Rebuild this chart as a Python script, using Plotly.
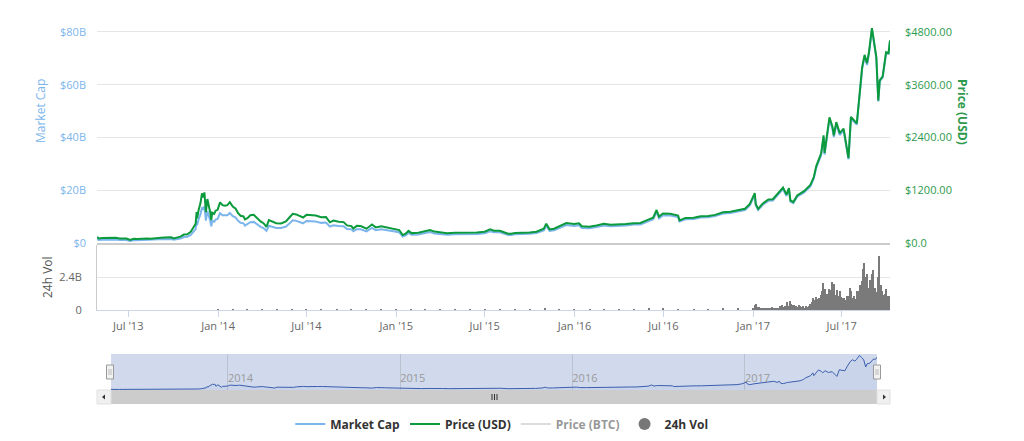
import pandas as pd
import plotly.graph_objects as go

# ---------------- data ----------------
dates = [
    "2013-04-28", "2013-05-02", "2013-05-09", "2013-05-16", "2013-05-23", "2013-05-30",
    "2013-06-06", "2013-06-13", "2013-06-20", "2013-06-27", "2013-07-05", "2013-07-12",
    "2013-07-19", "2013-07-26", "2013-08-02", "2013-08-09", "2013-08-16", "2013-08-23",
    "2013-08-30", "2013-09-06", "2013-09-13", "2013-09-20", "2013-09-27", "2013-10-02",
    "2013-10-09", "2013-10-16", "2013-10-23", "2013-10-30", "2013-11-06", "2013-11-12",
    "2013-11-16", "2013-11-18", "2013-11-19", "2013-11-22", "2013-11-26", "2013-11-29",
    "2013-12-02", "2013-12-04", "2013-12-07", "2013-12-10", "2013-12-13", "2013-12-16",
    "2013-12-18", "2013-12-20", "2013-12-24", "2013-12-27", "2013-12-31",
    "2014-01-05", "2014-01-10", "2014-01-15", "2014-01-20", "2014-01-25", "2014-01-31",
    "2014-02-06", "2014-02-11", "2014-02-16", "2014-02-22", "2014-02-25", "2014-03-02",
    "2014-03-08", "2014-03-15", "2014-03-22", "2014-03-29", "2014-04-04", "2014-04-10",
    "2014-04-15", "2014-04-22", "2014-04-30", "2014-05-10", "2014-05-20", "2014-05-27",
    "2014-06-03", "2014-06-10", "2014-06-17", "2014-06-24", "2014-07-01", "2014-07-10",
    "2014-07-20", "2014-07-31", "2014-08-10", "2014-08-18", "2014-08-25", "2014-09-05",
    "2014-09-15", "2014-09-22", "2014-10-01", "2014-10-05", "2014-10-12", "2014-10-20",
    "2014-11-01", "2014-11-12", "2014-11-20", "2014-12-01", "2014-12-15", "2014-12-31",
    "2015-01-07", "2015-01-14", "2015-01-20", "2015-01-26", "2015-02-01", "2015-02-15",
    "2015-03-01", "2015-03-11", "2015-03-20", "2015-04-01", "2015-04-15", "2015-05-01",
    "2015-05-15", "2015-06-01", "2015-06-15", "2015-07-01", "2015-07-12", "2015-07-20",
    "2015-08-01", "2015-08-18", "2015-08-24", "2015-09-01", "2015-09-15", "2015-10-01",
    "2015-10-15", "2015-10-30", "2015-11-04", "2015-11-07", "2015-11-11", "2015-11-20",
    "2015-12-01", "2015-12-15", "2015-12-31",
    "2016-01-10", "2016-01-16", "2016-01-31", "2016-02-15", "2016-03-01", "2016-03-15",
    "2016-04-01", "2016-04-15", "2016-05-01", "2016-05-15", "2016-05-31", "2016-06-10",
    "2016-06-17", "2016-06-22", "2016-06-30", "2016-07-15", "2016-07-31", "2016-08-03",
    "2016-08-15", "2016-09-01", "2016-09-15", "2016-10-01", "2016-10-15", "2016-10-31",
    "2016-11-15", "2016-12-01", "2016-12-15", "2016-12-25",
    "2017-01-04", "2017-01-06", "2017-01-11", "2017-01-20", "2017-02-01", "2017-02-10",
    "2017-02-23", "2017-03-03", "2017-03-10", "2017-03-15", "2017-03-18", "2017-03-24",
    "2017-04-01", "2017-04-15", "2017-04-28", "2017-05-05", "2017-05-10", "2017-05-20",
    "2017-05-25", "2017-05-27", "2017-06-06", "2017-06-12", "2017-06-15", "2017-06-20",
    "2017-06-27", "2017-07-05", "2017-07-15", "2017-07-20", "2017-08-01", "2017-08-05",
    "2017-08-12", "2017-08-17", "2017-08-22", "2017-08-26", "2017-09-01", "2017-09-05",
    "2017-09-10", "2017-09-14", "2017-09-17", "2017-09-23", "2017-09-30", "2017-10-05",
    "2017-10-08",
]

price_usd = [
    134, 105, 113, 118, 126, 128,
    119, 103, 108, 102, 69, 94,
    89, 96, 105, 103, 99, 109,
    127, 121, 126, 124, 131, 105,
    126, 145, 192, 200, 255, 355,
    440, 703, 560, 745, 913, 1130,
    1040, 1151, 700, 1000, 870, 690,
    520, 690, 665, 735, 755,
    925, 860, 850, 860, 930, 830,
    780, 680, 620, 605, 535, 565,
    630, 640, 565, 490, 450, 365,
    520, 490, 450, 445, 490, 580,
    665, 650, 610, 580, 640, 625,
    625, 585, 590, 470, 510, 485,
    475, 400, 385, 330, 390, 385,
    325, 420, 355, 380, 350, 320,
    295, 180, 210, 275, 225, 235,
    260, 295, 260, 245, 220, 235,
    237, 225, 237, 257, 310, 280,
    280, 212, 210, 228, 230, 238,
    255, 325, 440, 380, 310, 325,
    375, 455, 430,
    450, 380, 370, 400, 435, 415,
    417, 430, 450, 455, 530, 575,
    750, 600, 670, 665, 625, 515,
    570, 575, 610, 615, 640, 700,
    710, 755, 780, 890,
    1135, 890, 777, 895, 990, 995,
    1170, 1260, 1100, 1250, 970, 930,
    1080, 1180, 1320, 1500, 1750, 2040,
    2450, 2050, 2860, 2650, 2450, 2750,
    2500, 2600, 1930, 2870, 2720, 3250,
    4000, 4280, 4090, 4350, 4890, 4600,
    4230, 3240, 3700, 3790, 4340, 4320,
    4610,
]

market_cap_b = [
    1.49, 1.17, 1.26, 1.32, 1.40, 1.43,
    1.34, 1.16, 1.22, 1.15, 0.79, 1.07,
    1.01, 1.09, 1.21, 1.19, 1.14, 1.26,
    1.47, 1.42, 1.47, 1.45, 1.53, 1.24,
    1.49, 1.71, 2.27, 2.36, 3.05, 4.24,
    5.26, 8.40, 6.69, 8.90, 10.91, 13.50,
    12.58, 13.93, 8.47, 12.10, 10.53, 8.35,
    6.29, 8.35, 8.05, 8.89, 9.14,
    11.33, 10.54, 10.41, 10.54, 11.39, 10.17,
    9.63, 8.40, 7.66, 7.47, 6.61, 7.06,
    7.88, 8.00, 7.06, 6.13, 5.68, 4.61,
    6.56, 6.18, 5.68, 5.67, 6.25, 7.40,
    8.58, 8.39, 7.87, 7.48, 8.35, 8.16,
    8.16, 7.63, 7.78, 6.19, 6.72, 6.45,
    6.32, 5.32, 5.17, 4.43, 5.23, 5.17,
    4.40, 5.69, 4.81, 5.19, 4.78, 4.37,
    4.07, 2.48, 2.89, 3.79, 3.12, 3.26,
    3.64, 4.12, 3.64, 3.45, 3.10, 3.33,
    3.36, 3.22, 3.39, 3.70, 4.46, 4.03,
    4.06, 3.07, 3.05, 3.33, 3.36, 3.50,
    3.75, 4.78, 6.51, 5.62, 4.59, 4.81,
    5.60, 6.79, 6.42,
    6.76, 5.71, 5.56, 6.06, 6.63, 6.33,
    6.40, 6.60, 6.97, 7.04, 8.20, 8.97,
    11.70, 9.36, 10.45, 10.44, 9.81, 8.13,
    8.99, 9.11, 9.67, 9.80, 10.20, 11.15,
    11.36, 12.12, 12.52, 14.28,
    18.25, 14.31, 12.49, 14.39, 15.99, 16.07,
    18.90, 20.41, 17.82, 20.25, 15.71, 15.07,
    17.57, 19.20, 21.48, 24.50, 28.58, 33.31,
    40.01, 33.48, 46.85, 43.41, 40.13, 45.05,
    40.95, 42.74, 31.73, 47.18, 44.88, 53.63,
    66.00, 70.62, 67.49, 71.78, 80.98, 76.18,
    70.05, 53.65, 61.27, 62.76, 71.87, 71.80,
    76.62,
]

# 24h volume (billions USD): monthly 2014-2016, every third day in 2017
vol_monthly_start = "2014-01-01"
vol_monthly_b = [
    0.06, 0.05, 0.04, 0.04, 0.02, 0.03, 0.02, 0.02, 0.02, 0.03, 0.02, 0.02,
    0.04, 0.02, 0.03, 0.02, 0.02, 0.02, 0.03, 0.03, 0.02, 0.03, 0.12, 0.06,
    0.07, 0.05, 0.05, 0.05, 0.06, 0.15, 0.10, 0.07, 0.06, 0.07, 0.09, 0.10,
]
vol_2017_start = "2017-01-01"
vol_2017_b = [
    0.15, 0.34, 0.45, 0.20, 0.19, 0.12, 0.13, 0.11, 0.13, 0.09,
    0.16, 0.15, 0.12, 0.22, 0.09, 0.12, 0.11, 0.18, 0.28, 0.21,
    0.35, 0.24, 0.30, 0.55, 0.32, 0.62, 0.45, 0.40, 0.33, 0.28,
    0.24, 0.36, 0.30, 0.22, 0.30, 0.18, 0.28, 0.25, 0.30, 0.45,
    0.55, 0.85, 0.72, 0.95, 0.80, 0.90, 1.10, 1.35, 1.95, 1.50,
    1.20, 1.15, 1.50, 1.45, 2.05, 1.90, 1.10, 1.45, 1.05, 1.40,
    0.95, 0.85, 0.90, 0.70, 1.00, 1.05, 1.60, 1.35, 0.90, 1.05,
    0.80, 1.35, 1.40, 1.80, 2.10, 3.00, 3.40, 2.40, 2.60, 1.60,
    2.20, 2.60, 2.90, 1.60, 1.30, 2.40, 3.90, 1.80, 1.40, 1.10,
    1.20, 1.50, 1.05, 1.00,
]

price_btc_dates = ["2013-04-28", "2017-10-08"]
price_btc = [1.0, 1.0]

mcap_ticks = [0, 20, 40, 60, 80]
mcap_ticktext = ["$0", "$20B", "$40B", "$60B", "$80B"]
price_ticks = [0, 1200, 2400, 3600, 4800]
price_ticktext = ["$0.0", "$1200.00", "$2400.00", "$3600.00", "$4800.00"]
vol_ticks = [0, 2.4]
vol_ticktext = ["0", "2.4B"]
x_ticks = ["2013-07-01", "2014-01-01", "2014-07-01", "2015-01-01", "2015-07-01",
           "2016-01-01", "2016-07-01", "2017-01-01", "2017-07-01"]
x_ticktext = ["Jul '13", "Jan '14", "Jul '14", "Jan '15", "Jul '15",
              "Jan '16", "Jul '16", "Jan '17", "Jul '17"]
nav_ticks = ["2014-01-01", "2015-01-01", "2016-01-01", "2017-01-01"]
nav_ticktext = ["2014", "2015", "2016", "2017"]

assert len(dates) == len(price_usd) == len(market_cap_b)

vol_dates = (list(pd.date_range(vol_monthly_start, periods=len(vol_monthly_b), freq="MS"))
             + list(pd.date_range(vol_2017_start, periods=len(vol_2017_b), freq="3D")))
vol_values = vol_monthly_b + vol_2017_b

# ---------------- layout helpers (pixel -> paper) ----------------
W, H = 1024, 441
def px(x):
    return x / W
def py(y):
    return 1 - y / H

FONT = "Open Sans"
X_RANGE = ["2013-04-28", "2017-10-08"]
BLUE = "#7cb5ec"
GREEN = "#0b9a3c"
GREEN_TXT = "#2e9a4e"

fig = go.Figure()

fig.add_trace(go.Scatter(x=dates, y=market_cap_b, name="Market Cap", mode="lines",
                         line=dict(color=BLUE, width=2), xaxis="x", yaxis="y"))
fig.add_trace(go.Scatter(x=dates, y=price_usd, name="Price (USD)", mode="lines",
                         line=dict(color=GREEN, width=2), xaxis="x", yaxis="y2"))
fig.add_trace(go.Scatter(x=price_btc_dates, y=price_btc, name="Price (BTC)", mode="lines",
                         line=dict(color="#bbbbbb", width=2), xaxis="x", yaxis="y2",
                         visible="legendonly"))
fig.add_trace(go.Bar(x=vol_dates, y=vol_values, name="24h Vol", showlegend=False,
                     marker=dict(color="#7a7a7a", line=dict(width=0)),
                     width=2.6 * 86400000, xaxis="x2", yaxis="y3"))
fig.add_trace(go.Scatter(x=[None], y=[None], name="24h Vol", mode="markers",
                         marker=dict(color="#777777", size=12, symbol="circle"),
                         xaxis="x2", yaxis="y3"))
# navigator series
fig.add_trace(go.Scatter(x=dates, y=market_cap_b, mode="lines", showlegend=False,
                         line=dict(color="#3b5fae", width=1),
                         fill="tozeroy", fillcolor="rgba(51,92,173,0.05)",
                         xaxis="x3", yaxis="y4"))

tickfont = dict(family=FONT, size=11, color="#666666")

fig.update_layout(
    template="none",
    width=W, height=H,
    margin=dict(l=0, r=0, t=0, b=0, autoexpand=False),
    paper_bgcolor="white", plot_bgcolor="white",
    font=dict(family=FONT, color="#333333"),
    bargap=0,
    xaxis=dict(domain=[px(97), px(890)], range=X_RANGE, type="date", anchor="y",
               automargin=False,
               showticklabels=False, showgrid=False, ticks="", zeroline=False,
               showline=True, linecolor="#cccccc", linewidth=2),
    yaxis=dict(domain=[py(243), py(18.8)], range=[0, 85], anchor="x", automargin=False,
               tickvals=mcap_ticks, ticktext=mcap_ticktext,
               tickfont=dict(family=FONT, size=11, color=BLUE),
               showgrid=True, gridcolor="#e6e6e6", gridwidth=1, zeroline=False,
               showline=False, ticks="", ticklabelstandoff=10),
    yaxis2=dict(range=[0, 5100], overlaying="y", side="right", anchor="x", automargin=False,
                tickvals=price_ticks, ticktext=price_ticktext,
                tickfont=dict(family=FONT, size=11, color=GREEN_TXT),
                showgrid=False, zeroline=False, showline=False, ticks="",
                ticklabelstandoff=14),
    xaxis2=dict(domain=[px(97), px(890)], range=X_RANGE, type="date", anchor="y3",
                automargin=False,
                matches="x", tickvals=x_ticks, ticktext=x_ticktext, tickfont=tickfont,
                showgrid=False, zeroline=False, showline=True, linecolor="#ccd6eb",
                linewidth=1, ticks="outside", ticklen=6, tickcolor="#ccd6eb"),
    yaxis3=dict(domain=[py(310), py(245)], range=[0, 4.727], anchor="x2", automargin=False,
                tickvals=vol_ticks, ticktext=vol_ticktext, tickfont=tickfont,
                showgrid=True, gridcolor="#e6e6e6", zeroline=False,
                showline=True, linecolor="#cccccc", linewidth=1, ticks="",
                ticklabelstandoff=12),
    xaxis3=dict(domain=[px(111), px(877)], range=X_RANGE, type="date", anchor="y4",
                automargin=False,
                tickvals=nav_ticks, ticktext=nav_ticktext,
                tickfont=dict(family=FONT, size=11, color="#999999"),
                ticklabelposition="inside right", ticks="",
                showgrid=True, gridcolor="rgba(120,120,120,0.25)", gridwidth=1,
                zeroline=False, showline=False),
    yaxis4=dict(domain=[py(390), py(354)], range=[0, 84], anchor="x3", automargin=False,
                showticklabels=False, showgrid=False, zeroline=False, showline=False,
                ticks=""),
    legend=dict(orientation="h", x=0.49, xanchor="center", y=py(424), yanchor="middle",
                font=dict(family=FONT, size=12, color="#333333", weight="bold"),
                itemwidth=30, bgcolor="rgba(0,0,0,0)", traceorder="normal"),
    showlegend=True,
)

annotations = [
    dict(text="Market Cap", x=px(40), y=py(111), xref="paper", yref="paper",
         xanchor="center", yanchor="middle",
         textangle=-90, showarrow=False, font=dict(family=FONT, size=12, color=BLUE)),
    dict(text="Price (USD)", x=px(963), y=py(112), xref="paper", yref="paper",
         xanchor="center", yanchor="middle",
         textangle=90, showarrow=False,
         font=dict(family=FONT, size=12, color=GREEN_TXT, weight="bold")),
    dict(text="24h Vol", x=px(47), y=py(277), xref="paper", yref="paper",
         xanchor="center", yanchor="middle",
         textangle=-90, showarrow=False, font=dict(family=FONT, size=12, color="#555555")),
]
fig.update_layout(annotations=annotations)

shapes = []
# navigator mask (selected range covers all)
shapes.append(dict(type="rect", xref="x3 domain", yref="y4 domain", x0=0, x1=1, y0=0, y1=1,
                   fillcolor="rgba(102,133,194,0.3)", line=dict(width=0), layer="below"))
# scrollbar track / thumb / buttons
shapes.append(dict(type="rect", xref="paper", yref="paper", x0=px(97), x1=px(890),
                   y0=py(404), y1=py(390), fillcolor="#f2f2f2", line=dict(width=0)))
shapes.append(dict(type="rect", xref="paper", yref="paper", x0=px(111), x1=px(877),
                   y0=py(404), y1=py(390), fillcolor="#cccccc", line=dict(width=0)))
for bx0, bx1 in [(97, 111), (877, 890)]:
    shapes.append(dict(type="rect", xref="paper", yref="paper", x0=px(bx0), x1=px(bx1),
                       y0=py(404), y1=py(390), fillcolor="#f0f0f0",
                       line=dict(color="#e0e0e0", width=1)))
# arrows
shapes.append(dict(type="path", xref="paper", yref="paper",
                   path=f"M {px(102)} {py(397)} L {px(105)} {py(394.5)} L {px(105)} {py(399.5)} Z",
                   fillcolor="#333333", line=dict(width=0)))
shapes.append(dict(type="path", xref="paper", yref="paper",
                   path=f"M {px(886)} {py(397)} L {px(883)} {py(394.5)} L {px(883)} {py(399.5)} Z",
                   fillcolor="#333333", line=dict(width=0)))
# rifles
for rx in (492, 494.5, 497):
    shapes.append(dict(type="line", xref="paper", yref="paper", x0=px(rx), x1=px(rx),
                       y0=py(394), y1=py(400), line=dict(color="#333333", width=1)))
# navigator handles
for hx in (110, 877):
    shapes.append(dict(type="rect", xref="paper", yref="paper", x0=px(hx - 3.5), x1=px(hx + 3.5),
                       y0=py(379), y1=py(365), fillcolor="#f2f2f2",
                       line=dict(color="#999999", width=1)))
    for lx in (hx - 1, hx + 1):
        shapes.append(dict(type="line", xref="paper", yref="paper", x0=px(lx), x1=px(lx),
                           y0=py(369), y1=py(375), line=dict(color="#bbbbbb", width=1)))
fig.update_layout(shapes=shapes)

fig.write_html("out.html", config={"displayModeBar": False},
               post_script="document.body.style.margin='0';document.body.style.overflow='hidden';")
